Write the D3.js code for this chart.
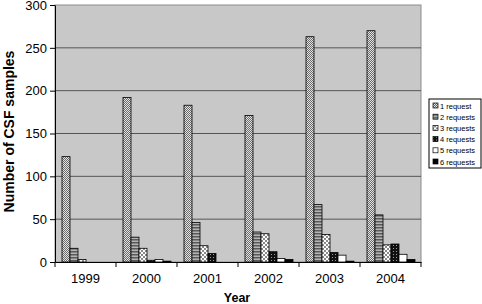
<!DOCTYPE html>
<html>
<head>
<meta charset="utf-8">
<script src="https://cdn.jsdelivr.net/npm/d3@7"></script>
<style>
  body { margin: 0; background: #fff; }
  text { font-family: "Liberation Sans", Arial, sans-serif; }
</style>
</head>
<body>
<div id="chart"></div>
<script>
// data
var years = ["1999", "2000", "2001", "2002", "2003", "2004"];
var series = ["1 request", "2 requests", "3 requests", "4 requests", "5 requests", "6 requests"];
var req1 = [123, 192, 183, 171, 263, 270];
var req2 = [16, 29, 46, 35, 67, 55];
var req3 = [3, 16, 19, 33, 32, 20];
var req4 = [0, 2, 10, 12, 11, 21];
var req5 = [0, 3, 0, 4, 8, 9];
var req6 = [0, 1, 0, 3, 1, 3];
var yTicks = [0, 50, 100, 150, 200, 250, 300];

var allSeries = [req1, req2, req3, req4, req5, req6];
var fills = ["url(#p1)", "url(#p2)", "url(#p3)", "url(#p4)", "#ffffff", "#000000"];

var W = 482, H = 304;
var margin = {top: 5, right: 61, bottom: 42, left: 55},
    width = W - margin.left - margin.right,
    height = H - margin.top - margin.bottom;

var svg = d3.select("#chart").append("svg")
    .attr("width", W).attr("height", H);

// fill patterns
var defs = svg.append("defs");
var p1 = defs.append("pattern").attr("id", "p1").attr("patternUnits", "userSpaceOnUse")
    .attr("width", 2).attr("height", 2);
p1.append("rect").attr("width", 2).attr("height", 2).attr("fill", "#e4e4e4");
p1.append("rect").attr("width", 1).attr("height", 1).attr("fill", "#6a6a6a");
p1.append("rect").attr("x", 1).attr("y", 1).attr("width", 1).attr("height", 1).attr("fill", "#6a6a6a");

var p2 = defs.append("pattern").attr("id", "p2").attr("patternUnits", "userSpaceOnUse")
    .attr("width", 4).attr("height", 3);
p2.append("rect").attr("width", 4).attr("height", 3).attr("fill", "#b4b4b4");
p2.append("rect").attr("width", 4).attr("height", 1.5).attr("fill", "#5a5a5a");

var p3 = defs.append("pattern").attr("id", "p3").attr("patternUnits", "userSpaceOnUse")
    .attr("width", 4).attr("height", 4);
p3.append("rect").attr("width", 4).attr("height", 4).attr("fill", "#ffffff");
p3.append("path").attr("d", "M0,0L4,4M4,0L0,4").attr("stroke", "#8a8a8a").attr("stroke-width", 1);

var p4 = defs.append("pattern").attr("id", "p4").attr("patternUnits", "userSpaceOnUse")
    .attr("width", 3).attr("height", 3);
p4.append("rect").attr("width", 3).attr("height", 3).attr("fill", "#111");
p4.append("rect").attr("width", 1).attr("height", 1).attr("fill", "#9a9a9a");

var g = svg.append("g")
    .attr("transform", "translate(" + margin.left + "," + margin.top + ")");

var x = d3.scaleBand().domain(years).range([0, width]);
var xs = d3.scaleBand().domain(series).range([7, x.bandwidth() - 6]);
var y = d3.scaleLinear().domain([0, 300]).range([height, 0]);

// plot background
g.append("rect")
    .attr("width", width).attr("height", height)
    .attr("fill", "#c8c8c8").attr("stroke", "#8c8c8c").attr("stroke-width", 1);

// gridlines
g.append("g").selectAll("line")
    .data(yTicks.filter(function(d) { return d > 0 && d < 300; }))
    .enter().append("line")
    .attr("x1", 0).attr("x2", width)
    .attr("y1", function(d) { return y(d); }).attr("y2", function(d) { return y(d); })
    .attr("stroke", "#555").attr("stroke-width", 1);

// bars
var table = years.map(function(yr, i) {
    var row = {year: yr};
    series.forEach(function(s, j) { row[s] = allSeries[j][i]; });
    return row;
});

g.append("g").selectAll("g")
    .data(table)
    .enter().append("g")
    .attr("transform", function(d) { return "translate(" + x(d.year) + ",0)"; })
    .selectAll("rect")
    .data(function(d) { return series.map(function(s, j) { return {key: s, idx: j, value: d[s]}; }); })
    .enter().append("rect")
    .filter(function(d) { return d.value > 0; })
    .attr("x", function(d) { return xs(d.key); })
    .attr("y", function(d) { return y(d.value); })
    .attr("width", xs.bandwidth())
    .attr("height", function(d) { return y(0) - y(d.value); })
    .attr("fill", function(d) { return fills[d.idx]; })
    .attr("stroke", "#000").attr("stroke-width", 0.8);

// y axis
var yAxis = g.append("g")
    .call(d3.axisLeft(y).tickValues(yTicks).tickSize(5).tickSizeOuter(0));
yAxis.select(".domain").attr("stroke", "#000");
yAxis.selectAll("text").attr("font-size", 13).attr("fill", "#000").attr("x", -8);

// x axis
var xAxis = g.append("g")
    .attr("transform", "translate(0," + height + ")")
    .call(d3.axisBottom(x).tickSize(0).tickSizeOuter(0));
xAxis.select(".domain").attr("stroke", "#000");
xAxis.selectAll("text").attr("font-size", 13).attr("fill", "#000").attr("dy", "1.35em");
xAxis.selectAll(".sep")
    .data(years.concat(["end"]))
    .enter().append("line")
    .attr("x1", function(d, i) { return i * x.bandwidth(); })
    .attr("x2", function(d, i) { return i * x.bandwidth(); })
    .attr("y1", 0).attr("y2", 5)
    .attr("stroke", "#000");

// axis titles
svg.append("text")
    .attr("x", margin.left + width / 2 - 1).attr("y", 302)
    .attr("text-anchor", "middle")
    .attr("font-size", 12.5).attr("font-weight", "bold")
    .text("Year");

svg.append("text")
    .attr("transform", "translate(14," + (margin.top + height / 2 - 2) + ") rotate(-90)")
    .attr("text-anchor", "middle")
    .attr("font-size", 14).attr("font-weight", "bold")
    .text("Number of CSF samples");

// legend
var legend = svg.append("g").attr("transform", "translate(429,99)");
legend.append("rect")
    .attr("width", 52).attr("height", 69)
    .attr("fill", "#fff").attr("stroke", "#000").attr("stroke-width", 1);
var items = legend.selectAll(".item")
    .data(series)
    .enter().append("g")
    .attr("transform", function(d, i) { return "translate(4," + (7 + i * 11.2) + ")"; });
items.append("rect")
    .attr("x", 0).attr("y", -3)
    .attr("width", 5).attr("height", 5)
    .attr("fill", function(d, i) { return fills[i]; })
    .attr("stroke", "#000").attr("stroke-width", 0.7);
items.append("text")
    .attr("x", 7).attr("y", 0)
    .attr("dy", "0.35em")
    .attr("font-size", 7.5)
    .text(function(d) { return d; });
</script>
</body>
</html>
